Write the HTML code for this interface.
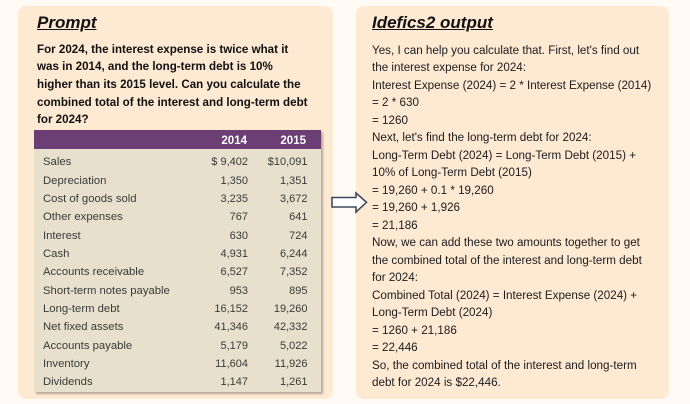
<!DOCTYPE html>
<html><head><meta charset="utf-8">
<style>
html,body{margin:0;padding:0;}
body{width:690px;height:404px;position:relative;overflow:hidden;background:#fffaf4;font-family:"Liberation Sans",Arial,sans-serif;}
.panel{position:absolute;top:6px;height:393px;background:#fee9d3;border-radius:8px;}
.t{position:absolute;white-space:nowrap;font-size:11.65px;line-height:13px;color:#1c1c1c;}
.b{font-weight:bold;color:#111;font-size:11.6px;}
.title{position:absolute;white-space:nowrap;font-size:17px;line-height:20px;font-weight:bold;font-style:italic;text-decoration:underline;color:#111;}
.tbl{position:absolute;left:34px;top:130px;width:287px;height:262px;background:#e7e0cc;box-shadow:2px 2px 2px rgba(0,0,0,0.28);}
.hdr{position:absolute;left:34px;top:130px;width:287px;height:19px;background:#6b3f74;}
.h{position:absolute;white-space:nowrap;font-size:11.5px;line-height:13px;font-weight:bold;color:#fff;text-align:right;width:60px;}
.l{position:absolute;left:43px;white-space:nowrap;font-size:11.3px;line-height:13px;color:#3a3a3a;}
.n{position:absolute;white-space:nowrap;font-size:11px;line-height:13px;color:#3a3a3a;text-align:right;width:70px;}
</style></head><body>
<div class="panel" style="left:18px;width:315px;"></div>
<div class="panel" style="left:356px;width:313px;"></div>

<div class="title" style="left:37px;top:13.4px;">Prompt</div>
<div class="title" style="left:372px;top:13.4px;">Idefics2 output</div>

<div class="t b" style="left:37px;top:42.5px;">For 2024, the interest expense is twice what it</div>
<div class="t b" style="left:37px;top:60.2px;">was in 2014, and the long-term debt is 10%</div>
<div class="t b" style="left:37px;top:77.9px;">higher than its 2015 level. Can you calculate the</div>
<div class="t b" style="left:37px;top:95.6px;">combined total of the interest and long-term debt</div>
<div class="t b" style="left:37px;top:113.3px;">for 2024?</div>

<div class="tbl"></div>
<div class="hdr"></div>
<div class="h" style="left:187px;top:134.7px;">2014</div>
<div class="h" style="left:246px;top:134.7px;">2015</div>

<div class="l" style="top:156.4px;">Sales</div>
<div class="l" style="top:174.7px;">Depreciation</div>
<div class="l" style="top:193.0px;">Cost of goods sold</div>
<div class="l" style="top:211.4px;">Other expenses</div>
<div class="l" style="top:229.7px;">Interest</div>
<div class="l" style="top:248.0px;">Cash</div>
<div class="l" style="top:266.4px;">Accounts receivable</div>
<div class="l" style="top:284.7px;">Short-term notes payable</div>
<div class="l" style="top:303.0px;">Long-term debt</div>
<div class="l" style="top:321.4px;">Net fixed assets</div>
<div class="l" style="top:339.7px;">Accounts payable</div>
<div class="l" style="top:358.0px;">Inventory</div>
<div class="l" style="top:376.4px;">Dividends</div>

<div class="n" style="left:178px;top:156.4px;">$ 9,402</div><div class="n" style="left:237.5px;top:156.4px;">$10,091</div>
<div class="n" style="left:178px;top:174.7px;">1,350</div><div class="n" style="left:237.5px;top:174.7px;">1,351</div>
<div class="n" style="left:178px;top:193.0px;">3,235</div><div class="n" style="left:237.5px;top:193.0px;">3,672</div>
<div class="n" style="left:178px;top:211.4px;">767</div><div class="n" style="left:237.5px;top:211.4px;">641</div>
<div class="n" style="left:178px;top:229.7px;">630</div><div class="n" style="left:237.5px;top:229.7px;">724</div>
<div class="n" style="left:178px;top:248.0px;">4,931</div><div class="n" style="left:237.5px;top:248.0px;">6,244</div>
<div class="n" style="left:178px;top:266.4px;">6,527</div><div class="n" style="left:237.5px;top:266.4px;">7,352</div>
<div class="n" style="left:178px;top:284.7px;">953</div><div class="n" style="left:237.5px;top:284.7px;">895</div>
<div class="n" style="left:178px;top:303.0px;">16,152</div><div class="n" style="left:237.5px;top:303.0px;">19,260</div>
<div class="n" style="left:178px;top:321.4px;">41,346</div><div class="n" style="left:237.5px;top:321.4px;">42,332</div>
<div class="n" style="left:178px;top:339.7px;">5,179</div><div class="n" style="left:237.5px;top:339.7px;">5,022</div>
<div class="n" style="left:178px;top:358.0px;">11,604</div><div class="n" style="left:237.5px;top:358.0px;">11,926</div>
<div class="n" style="left:178px;top:376.4px;">1,147</div><div class="n" style="left:237.5px;top:376.4px;">1,261</div>

<div class="t" style="left:372px;top:43.7px;">Yes, I can help you calculate that. First, let's find out</div>
<div class="t" style="left:372px;top:61.2px;">the interest expense for 2024:</div>
<div class="t" style="left:372px;top:78.7px;">Interest Expense (2024) = 2 * Interest Expense (2014)</div>
<div class="t" style="left:372px;top:96.2px;">= 2 * 630</div>
<div class="t" style="left:372px;top:113.7px;">= 1260</div>
<div class="t" style="left:372px;top:131.2px;">Next, let's find the long-term debt for 2024:</div>
<div class="t" style="left:372px;top:148.7px;">Long-Term Debt (2024) = Long-Term Debt (2015) +</div>
<div class="t" style="left:372px;top:166.2px;">10% of Long-Term Debt (2015)</div>
<div class="t" style="left:372px;top:183.7px;">= 19,260 + 0.1 * 19,260</div>
<div class="t" style="left:372px;top:201.2px;">= 19,260 + 1,926</div>
<div class="t" style="left:372px;top:218.7px;">= 21,186</div>
<div class="t" style="left:372px;top:236.2px;">Now, we can add these two amounts together to get</div>
<div class="t" style="left:372px;top:253.7px;">the combined total of the interest and long-term debt</div>
<div class="t" style="left:372px;top:271.2px;">for 2024:</div>
<div class="t" style="left:372px;top:288.7px;">Combined Total (2024) = Interest Expense (2024) +</div>
<div class="t" style="left:372px;top:306.2px;">Long-Term Debt (2024)</div>
<div class="t" style="left:372px;top:323.7px;">= 1260 + 21,186</div>
<div class="t" style="left:372px;top:341.2px;">= 22,446</div>
<div class="t" style="left:372px;top:358.7px;">So, the combined total of the interest and long-term</div>
<div class="t" style="left:372px;top:376.2px;">debt for 2024 is $22,446.</div>

<svg style="position:absolute;left:0;top:0;" width="690" height="404">
<polygon points="332,197.5 356,197.5 356,193 366.5,202.3 356,212 356,207 332,207" fill="#ffffff" stroke="#3e4a5c" stroke-width="1.6" stroke-linejoin="miter"/>
</svg>
</body></html>
